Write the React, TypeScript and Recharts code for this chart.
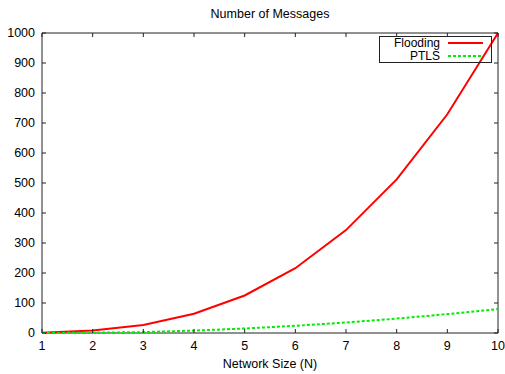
import React from 'react';
import { LineChart, Line, XAxis, YAxis, Legend, Label, ReferenceArea } from 'recharts';

const networkSizes = [1, 2, 3, 4, 5, 6, 7, 8, 9, 10];
const floodingMessages = [1, 8, 27, 64, 125, 216, 343, 512, 729, 1000];
const ptlsMessages = [0, 1, 3, 8, 15, 24, 35, 48, 63, 80];
const xTicks = [1, 2, 3, 4, 5, 6, 7, 8, 9, 10];
const yTicks = [0, 100, 200, 300, 400, 500, 600, 700, 800, 900, 1000];
const seriesNames = ['Flooding', 'PTLS'];
const seriesColors = ['#ff0000', '#00ee00'];
const seriesDashes = ['', '3 2'];
const chartTitle = 'Number of Messages';
const xAxisTitle = 'Network Size (N)';

const data = networkSizes.map((n, i) => ({
  n,
  Flooding: floodingMessages[i],
  PTLS: ptlsMessages[i],
}));

const W = 505;
const H = 374;
const MARGIN = { top: 33, right: 7, bottom: 0, left: 0 };
const PLOT_TOP = MARGIN.top;
const PLOT_RIGHT = W - MARGIN.right;

const FONT = '"Liberation Sans", Arial, Helvetica, sans-serif';
const FS = 12.5;
const LEGEND_FS = 12;
const TICK_LEN = 4;
const X_MARGIN = 8;
const Y_MARGIN = 7;
const FRAME = '#222';

const BottomTick = (props: any) => {
  const { x, y, payload } = props;
  const axisY = y - X_MARGIN;
  return (
    <g>
      <line x1={x} x2={x} y1={axisY} y2={axisY - TICK_LEN} stroke={FRAME} />
      <line x1={x} x2={x} y1={PLOT_TOP} y2={PLOT_TOP + TICK_LEN} stroke={FRAME} />
      <text x={x} y={y} dy="0.71em" textAnchor="middle" fontSize={FS} fontFamily={FONT} fill="#000">
        {payload.value}
      </text>
    </g>
  );
};

const LeftTick = (props: any) => {
  const { x, y, payload } = props;
  const axisX = x + Y_MARGIN;
  return (
    <g>
      <line x1={axisX} x2={axisX + TICK_LEN} y1={y} y2={y} stroke={FRAME} />
      <line x1={PLOT_RIGHT} x2={PLOT_RIGHT - TICK_LEN} y1={y} y2={y} stroke={FRAME} />
      <text x={x} y={y} dy="0.355em" textAnchor="end" fontSize={FS} fontFamily={FONT} fill="#000">
        {payload.value}
      </text>
    </g>
  );
};

const LegendBox = () => (
  <div
    style={{
      border: `1px solid ${FRAME}`,
      boxSizing: 'border-box',
      width: 113,
      height: 27,
      fontFamily: FONT,
      fontSize: LEGEND_FS,
      color: '#000',
    }}
  >
    {seriesNames.map((name, i) => (
      <div key={name} style={{ display: 'flex', alignItems: 'center', height: 12.5, lineHeight: '12.5px' }}>
        <span style={{ width: 60, textAlign: 'right', whiteSpace: 'nowrap' }}>{name}</span>
        <svg width={44} height={12} style={{ display: 'block' }}>
          <line
            x1={8}
            x2={43}
            y1={6}
            y2={6}
            stroke={seriesColors[i]}
            strokeWidth={2}
            strokeDasharray={seriesDashes[i] || undefined}
          />
        </svg>
      </div>
    ))}
  </div>
);

export default function App() {
  return (
    <div style={{ position: 'absolute', left: 0, top: 0, width: W, height: H, background: '#fff' }}>
      <LineChart width={W} height={H} data={data} margin={MARGIN}>
        <XAxis
          dataKey="n"
          type="number"
          domain={[1, 10]}
          ticks={xTicks}
          height={41}
          tickSize={0}
          tickMargin={X_MARGIN}
          axisLine={false}
          tick={<BottomTick />}
          interval={0}
        >
          <Label value={xAxisTitle} position="insideBottom" offset={6} fontSize={FS} fontFamily={FONT} fill="#000" />
        </XAxis>
        <YAxis
          type="number"
          domain={[0, 1000]}
          ticks={yTicks}
          width={42}
          tickSize={0}
          tickMargin={Y_MARGIN}
          axisLine={false}
          tick={<LeftTick />}
          interval={0}
        />
        <ReferenceArea
          x1={1}
          x2={10}
          y1={0}
          y2={1000}
          fill="none"
          fillOpacity={0}
          stroke={FRAME}
          strokeWidth={1}
          ifOverflow="visible"
        >
          <Label value={chartTitle} position="top" offset={15} fontSize={FS} fontFamily={FONT} fill="#000" />
        </ReferenceArea>
        <Line
          type="linear"
          dataKey="Flooding"
          stroke={seriesColors[0]}
          strokeWidth={2}
          dot={false}
          isAnimationActive={false}
        />
        <Line
          type="linear"
          dataKey="PTLS"
          stroke={seriesColors[1]}
          strokeWidth={2}
          strokeDasharray={seriesDashes[1]}
          dot={false}
          isAnimationActive={false}
        />
        <Legend
          layout="vertical"
          align="center"
          verticalAlign="middle"
          wrapperStyle={{ left: 379, top: 36, width: 113, height: 27 }}
          content={() => <LegendBox />}
        />
      </LineChart>
    </div>
  );
}
